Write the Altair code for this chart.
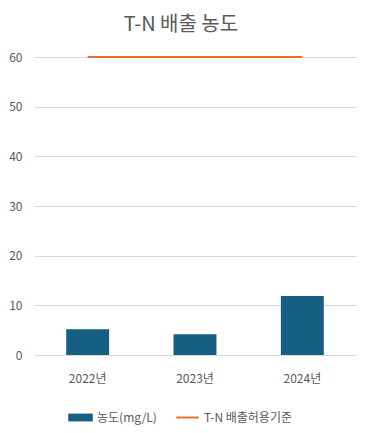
import altair as alt
import pandas as pd

years = ["2022년", "2023년", "2024년"]
concentration = [5.2, 4.2, 11.9]
limit = [60, 60, 60]
y_ticks = [0, 10, 20, 30, 40, 50, 60]

FONT = "Noto Sans CJK KR"
GREY = "#595959"

df = pd.DataFrame({
    "year": years,
    "conc": concentration,
    "limit": limit,
    "s_bar": ["농도(mg/L)"] * 3,
    "s_line": ["T-N 배출허용기준"] * 3,
})

x = alt.X("year:N", sort=years, title=None,
          scale=alt.Scale(paddingInner=0.6, paddingOuter=0.3),
          axis=alt.Axis(labelAngle=0, labelPadding=18, ticks=False, domain=False,
                        labelFontSize=12, labelColor=GREY, labelFont=FONT))

bars = alt.Chart(df).mark_bar().encode(
    x=x,
    y=alt.Y("conc:Q", title=None,
            scale=alt.Scale(domain=[0, 60], nice=False),
            axis=alt.Axis(values=y_ticks, ticks=False, domain=False, labelPadding=12,
                          labelFontSize=12, labelColor=GREY, labelFont=FONT,
                          gridColor="#d9d9d9", gridWidth=1)),
    fill=alt.Fill("s_bar:N", title=None,
                  scale=alt.Scale(range=["#165e83"]),
                  legend=alt.Legend(orient="none", legendX=34, legendY=348,
                                    symbolType="M-1,-0.32H1V0.32H-1Z", symbolSize=600,
                                    labelFontSize=12, labelColor=GREY, labelFont=FONT,
                                    symbolStrokeWidth=0)),
)

line = alt.Chart(df).mark_line(strokeWidth=2).encode(
    x=x,
    y=alt.Y("limit:Q"),
    stroke=alt.Stroke("s_line:N", title=None,
                      scale=alt.Scale(range=["#e8702a"]),
                      legend=alt.Legend(orient="none", legendX=141, legendY=348,
                                        symbolType="stroke", symbolSize=500,
                                        symbolStrokeWidth=2,
                                        labelFontSize=12, labelColor=GREY, labelFont=FONT)),
)

chart = alt.layer(bars, line).resolve_scale(fill="independent", stroke="independent").properties(
    width=322, height=298,
    autosize=alt.AutoSizeParams(type="none"),
    padding={"left": 26, "top": 49, "right": 2, "bottom": 76},
    title=alt.Title("T-N 배출 농도", fontSize=20, font=FONT, fontWeight="normal",
                    color=GREY, anchor="middle", dx=-14, offset=16),
).configure_view(stroke=None)

chart.save("out.html", embed_options={"renderer": "svg", "actions": False})
